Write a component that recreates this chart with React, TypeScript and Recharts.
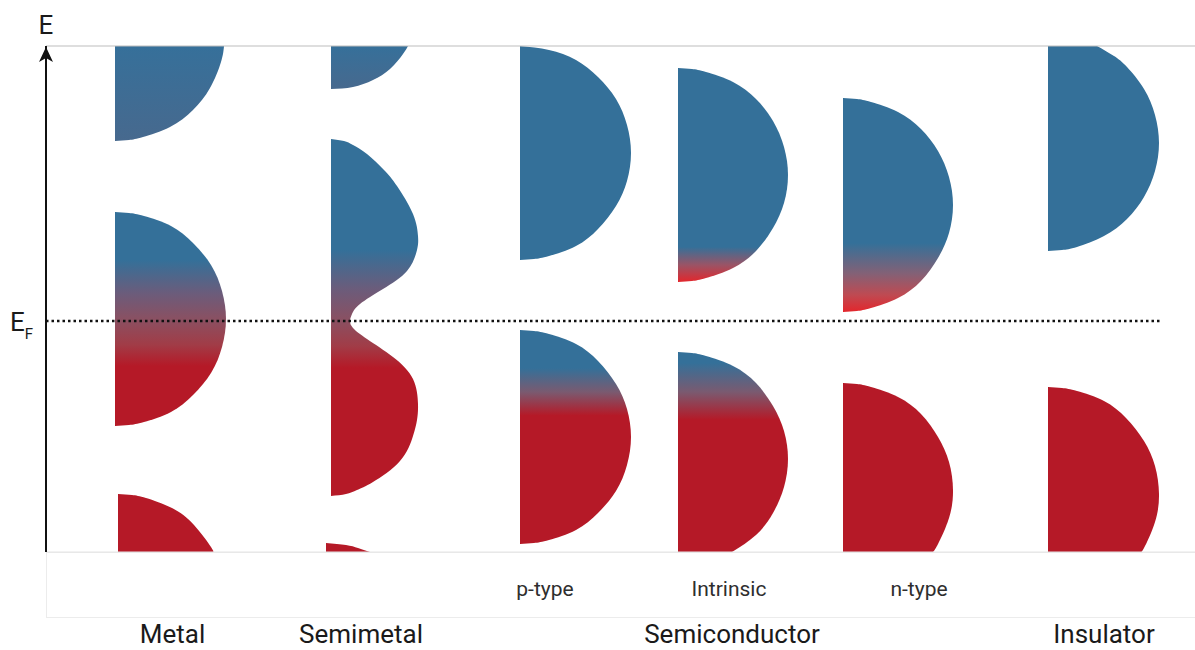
import React from "react";
import {
  ComposedChart,
  Area,
  XAxis,
  YAxis,
  ReferenceLine,
  ReferenceDot,
} from "recharts";

// [E, DOS] pairs (E relative to E_F, arbitrary units)
const metalTop = [[2.75, 1.09], [2.59, 1.06], [2.33, 0.95], [2.11, 0.78], [1.94, 0.55], [1.84, 0.28], [1.81, 0.14], [1.8, 0]];
const metalMid = [[1.09, 0], [1.08, 0.14], [1.05, 0.29], [0.95, 0.56], [0.78, 0.78], [0.56, 0.96], [0.3, 1.07], [0.02, 1.11], [-0.26, 1.07], [-0.52, 0.96], [-0.74, 0.78], [-0.91, 0.56], [-1.01, 0.29], [-1.04, 0.14], [-1.05, 0]];
const metalLow = [[-1.73, 0], [-1.74, 0.14], [-1.77, 0.28], [-1.87, 0.54], [-2.04, 0.76], [-2.26, 0.93], [-2.31, 0.95]];

const semiTop = [[2.75, 0.77], [2.67, 0.72], [2.52, 0.59], [2.41, 0.42], [2.34, 0.22], [2.32, 0]];
const semiMid = [[1.82, 0], [1.8, 0.13], [1.76, 0.22], [1.67, 0.36], [1.51, 0.53], [1.35, 0.66], [1.07, 0.82], [0.85, 0.87], [0.71, 0.86], [0.5, 0.76], [0.32, 0.52], [0.17, 0.29], [0.07, 0.21], [0, 0.19], [-0.07, 0.22], [-0.18, 0.36], [-0.36, 0.62], [-0.58, 0.82], [-0.83, 0.87], [-0.99, 0.86], [-1.15, 0.82], [-1.4, 0.69], [-1.61, 0.42], [-1.69, 0.26], [-1.73, 0.15], [-1.75, 0]];
const semiLow = [[-2.22, 0], [-2.24, 0.2], [-2.27, 0.32], [-2.31, 0.44]];

const pUpper = [[2.75, 0], [2.71, 0.29], [2.61, 0.56], [2.44, 0.78], [2.22, 0.96], [1.96, 1.07], [1.68, 1.11], [1.4, 1.07], [1.15, 0.96], [0.92, 0.78], [0.75, 0.56], [0.65, 0.29], [0.62, 0.14], [0.61, 0]];
const pLower = [[-0.09, 0], [-0.1, 0.14], [-0.13, 0.29], [-0.23, 0.56], [-0.4, 0.78], [-0.63, 0.96], [-0.88, 1.07], [-1.16, 1.11], [-1.44, 1.07], [-1.7, 0.96], [-1.92, 0.78], [-2.09, 0.56], [-2.19, 0.29], [-2.22, 0.14], [-2.23, 0]];

const iUpper = [[2.53, 0], [2.52, 0.14], [2.49, 0.28], [2.39, 0.55], [2.22, 0.78], [2.0, 0.95], [1.74, 1.06], [1.46, 1.1], [1.18, 1.06], [0.93, 0.95], [0.7, 0.78], [0.53, 0.55], [0.43, 0.28], [0.4, 0.14], [0.39, 0]];
const iLower = [[-0.31, 0], [-0.32, 0.14], [-0.35, 0.28], [-0.45, 0.55], [-0.62, 0.78], [-0.85, 0.95], [-1.1, 1.06], [-1.38, 1.1], [-1.66, 1.06], [-1.92, 0.95], [-2.14, 0.78], [-2.31, 0.54]];

const nUpper = [[2.23, 0], [2.22, 0.14], [2.19, 0.28], [2.09, 0.55], [1.92, 0.78], [1.7, 0.95], [1.44, 1.06], [1.16, 1.1], [0.88, 1.06], [0.63, 0.95], [0.4, 0.78], [0.23, 0.55], [0.13, 0.28], [0.1, 0.14], [0.09, 0]];
const nLower = [[-0.62, 0], [-0.63, 0.14], [-0.66, 0.28], [-0.76, 0.55], [-0.93, 0.78], [-1.16, 0.95], [-1.41, 1.06], [-1.69, 1.1], [-1.97, 1.06], [-2.23, 0.95], [-2.31, 0.9]];

const insUpper = [[2.75, 0.49], [2.65, 0.66], [2.54, 0.79], [2.32, 0.96], [2.06, 1.07], [1.78, 1.11], [1.5, 1.07], [1.24, 0.96], [1.02, 0.79], [0.85, 0.56], [0.74, 0.29], [0.71, 0.14], [0.7, 0]];
const insLower = [[-0.66, 0], [-0.67, 0.14], [-0.7, 0.29], [-0.8, 0.56], [-0.97, 0.78], [-1.2, 0.96], [-1.45, 1.07], [-1.73, 1.11], [-2.01, 1.07], [-2.27, 0.96], [-2.31, 0.92]];

const mainLabels = ["Metal", "Semimetal", "Semiconductor", "Insulator"];
const mainTicks = [1.265, 3.15, 6.86, 10.58];
const subLabels = ["p-type", "Intrinsic", "n-type"];
const subTicks = [4.99, 6.83, 8.73];

const E_TOP = 2.75;
const E_BOTTOM = -2.31;
const X_MAX = 11.49;

const BLUE = "#347099";
const RED = "#b51927";
const HOT = "#e3262c";
const FONT = "Roboto, 'DejaVu Sans', sans-serif";

// both label rows share one axis: sub labels first, then the main ones
const allTicks = [...subTicks, ...mainTicks];

// where each band's baseline sits along x
const bands = [
  { id: "metalTop", pts: metalTop, base: 0.69, fill: "url(#gTopFade)" },
  { id: "metalMid", pts: metalMid, base: 0.69, fill: "url(#gMetalMid)" },
  { id: "metalLow", pts: metalLow, base: 0.72, fill: RED },
  { id: "semiTop", pts: semiTop, base: 2.85, fill: "url(#gTopFade)" },
  { id: "semiMid", pts: semiMid, base: 2.85, fill: "url(#gSemiMid)" },
  { id: "semiLow", pts: semiLow, base: 2.8, fill: RED },
  { id: "pUpper", pts: pUpper, base: 4.74, fill: BLUE },
  { id: "pLower", pts: pLower, base: 4.74, fill: "url(#gPLower)" },
  { id: "iUpper", pts: iUpper, base: 6.32, fill: "url(#gIUpper)" },
  { id: "iLower", pts: iLower, base: 6.32, fill: "url(#gILower)" },
  { id: "nUpper", pts: nUpper, base: 7.97, fill: "url(#gNUpper)" },
  { id: "nLower", pts: nLower, base: 7.97, fill: RED },
  { id: "insUpper", pts: insUpper, base: 10.02, fill: BLUE },
  { id: "insLower", pts: insLower, base: 10.02, fill: RED },
];

const Arrow = ({ cx, cy }: any) => (
  <g>
    <path
      d={`M${cx},${cy + 1} L${cx + 7},${cy + 16} L${cx},${cy + 12} L${cx - 7},${cy + 16} Z`}
      fill="#111"
    />
    <text x={cx} y={cy - 12} textAnchor="middle" fontSize={26} fill="#1a1a1a" fontFamily={FONT}>
      E
    </text>
  </g>
);

const FermiLabel = ({ cx, cy }: any) => (
  <text x={cx - 36} y={cy + 10} fontSize={26} fill="#1a1a1a" fontFamily={FONT}>
    E
    <tspan fontSize={15} dy={8}>F</tspan>
  </text>
);

const LabelTick = ({ x, y, index }: any) => {
  const isSub = index < subTicks.length;
  return (
    <text
      x={x}
      y={y + (isSub ? 44 : 91)}
      textAnchor="middle"
      fontSize={isSub ? 21 : 26}
      fill={isSub ? "#2e2e2e" : "#1a1a1a"}
      fontFamily={FONT}
    >
      {isSub ? subLabels[index] : mainLabels[index - subTicks.length]}
    </text>
  );
};

export default function App() {
  return (
    <div style={{ position: "absolute", left: 0, top: 0, width: 1195, height: 650, background: "#fff" }}>
      <div
        style={{
          position: "absolute",
          left: 46,
          top: 552,
          width: 1149,
          height: 66,
          boxSizing: "border-box",
          border: "1px solid #ececec",
          borderRight: "none",
        }}
      />
      <div style={{ position: "absolute", left: 0, top: 0 }}>
        <ComposedChart
          width={1195}
          height={650}
          layout="vertical"
          margin={{ top: 46, right: 0, bottom: 0, left: 6 }}
        >
          <defs>
            <linearGradient id="gTopFade" x1="0" y1="0" x2="0" y2="1">
              <stop offset="0" stopColor="#36709a" />
              <stop offset="1" stopColor="#47698e" />
            </linearGradient>
            <linearGradient id="gMetalMid" x1="0" y1="0" x2="0" y2="1">
              <stop offset="0" stopColor={BLUE} />
              <stop offset="0.224" stopColor={BLUE} />
              <stop offset="0.38" stopColor="#6b5c7b" />
              <stop offset="0.5" stopColor="#8a5062" />
              <stop offset="0.62" stopColor="#a13c47" />
              <stop offset="0.72" stopColor={RED} />
              <stop offset="1" stopColor={RED} />
            </linearGradient>
            <linearGradient id="gSemiMid" x1="0" y1="0" x2="0" y2="1">
              <stop offset="0" stopColor={BLUE} />
              <stop offset="0.311" stopColor={BLUE} />
              <stop offset="0.42" stopColor="#6b5c7b" />
              <stop offset="0.507" stopColor="#8a5062" />
              <stop offset="0.58" stopColor="#a13c47" />
              <stop offset="0.641" stopColor={RED} />
              <stop offset="1" stopColor={RED} />
            </linearGradient>
            <linearGradient id="gPLower" x1="0" y1="0" x2="0" y2="1">
              <stop offset="0" stopColor={BLUE} />
              <stop offset="0.178" stopColor={BLUE} />
              <stop offset="0.29" stopColor="#7a5a70" />
              <stop offset="0.4" stopColor={RED} />
              <stop offset="1" stopColor={RED} />
            </linearGradient>
            <linearGradient id="gILower" x1="0" y1="0" x2="0" y2="1">
              <stop offset="0" stopColor={BLUE} />
              <stop offset="0.055" stopColor={BLUE} />
              <stop offset="0.2" stopColor="#7a5a70" />
              <stop offset="0.34" stopColor={RED} />
              <stop offset="1" stopColor={RED} />
            </linearGradient>
            <linearGradient id="gIUpper" x1="0" y1="0" x2="0" y2="1">
              <stop offset="0" stopColor={BLUE} />
              <stop offset="0.836" stopColor={BLUE} />
              <stop offset="0.92" stopColor="#9a5466" />
              <stop offset="1" stopColor={HOT} />
            </linearGradient>
            <linearGradient id="gNUpper" x1="0" y1="0" x2="0" y2="1">
              <stop offset="0" stopColor={BLUE} />
              <stop offset="0.678" stopColor={BLUE} />
              <stop offset="0.82" stopColor="#836176" />
              <stop offset="0.92" stopColor="#bf4a52" />
              <stop offset="1" stopColor={HOT} />
            </linearGradient>
          </defs>

          <XAxis
            type="number"
            domain={[0, X_MAX]}
            allowDataOverflow
            ticks={allTicks}
            interval={0}
            height={98}
            axisLine={false}
            tickLine={false}
            tickSize={0}
            tickMargin={0}
            tick={<LabelTick />}
          />
          <YAxis
            type="number"
            dataKey="E"
            domain={[E_BOTTOM, E_TOP]}
            reversed
            allowDataOverflow
            width={40}
            tick={false}
            tickLine={false}
            axisLine={{ stroke: "#111", strokeWidth: 2 }}
          />

          {bands.map((b) => (
            <Area
              key={b.id}
              data={b.pts.map(([E, d]) => ({ E, range: [b.base, b.base + d] }))}
              dataKey="range"
              type="natural"
              stroke="none"
              fill={b.fill}
              fillOpacity={1}
              dot={false}
              activeDot={false}
              isAnimationActive={false}
            />
          ))}

          <ReferenceLine y={E_TOP} stroke="#bdbdbd" strokeWidth={1} />
          <ReferenceLine y={E_BOTTOM} stroke="#e4e4e4" strokeWidth={1} />
          <ReferenceLine
            segment={[{ x: 0, y: 0 }, { x: 11.16, y: 0 }]}
            stroke="#111"
            strokeWidth={2.5}
            strokeDasharray="2.5 3"
          />
          <ReferenceDot x={0} y={E_TOP} shape={<Arrow />} />
          <ReferenceDot x={0} y={0} shape={<FermiLabel />} />
        </ComposedChart>
      </div>
    </div>
  );
}
